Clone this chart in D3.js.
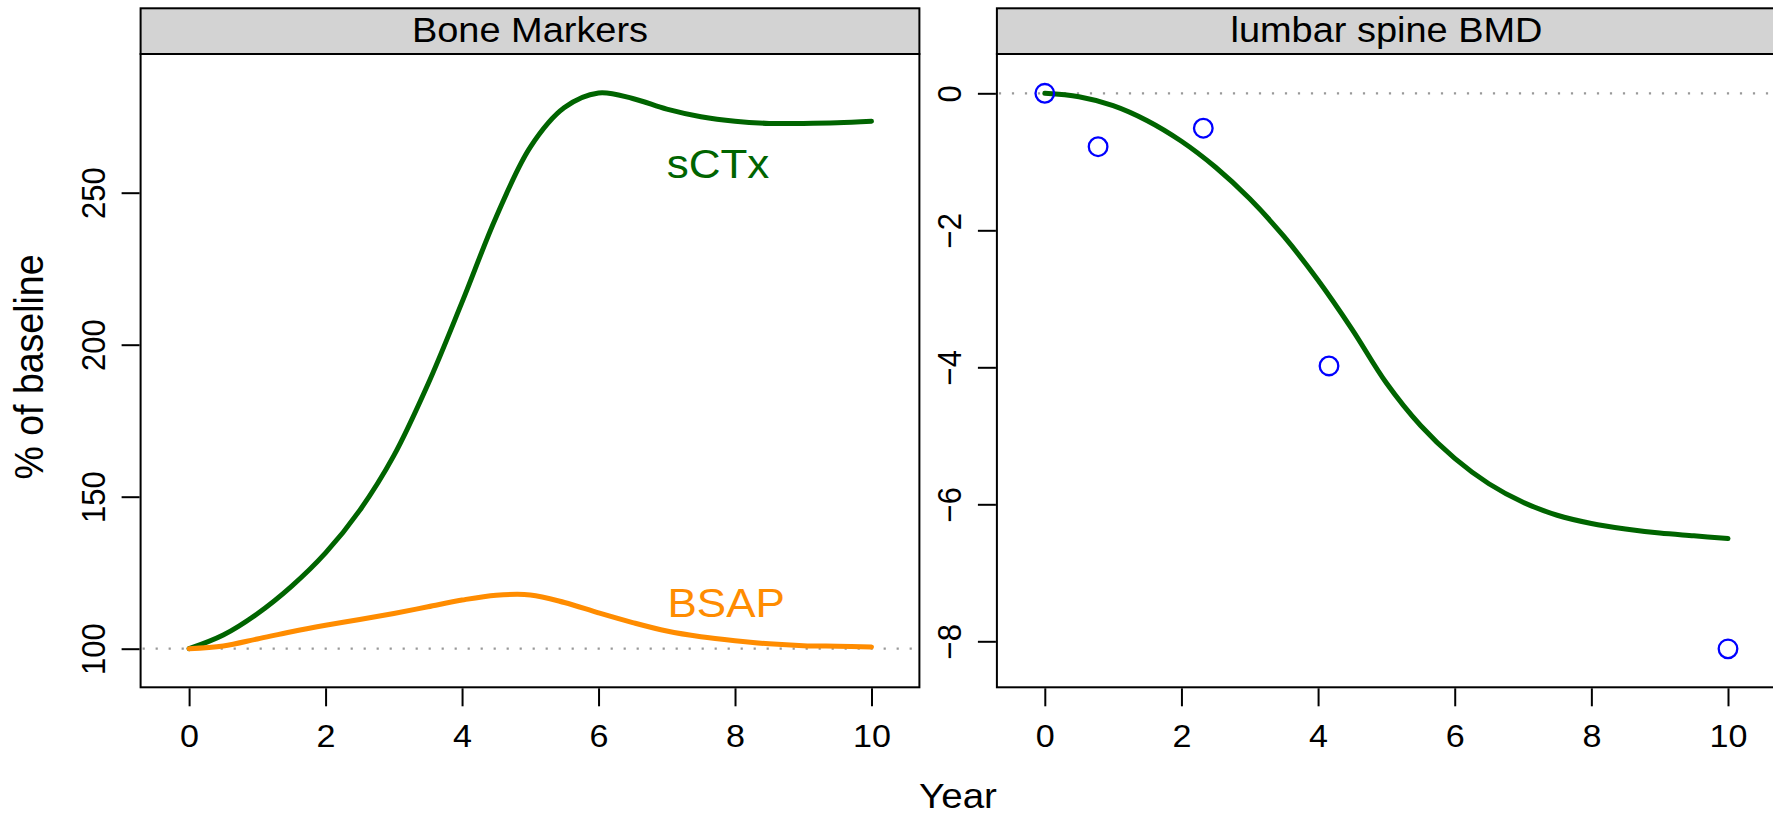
<!DOCTYPE html>
<html><head><meta charset="utf-8">
<script src="https://cdn.jsdelivr.net/npm/d3@7"></script>
<style>
html,body{margin:0;padding:0;background:#fff;}
text{font-family:"Liberation Sans",Arial,Helvetica,sans-serif;}
</style></head>
<body>
<svg id="chart" width="1773" height="816"></svg>
<script>
// ---- data ----
const years = [0,0.5,1,1.5,2,2.5,3,3.5,4,4.5,5,5.5,6,6.5,7,7.5,8,8.5,9,9.5,10];
const sctx  = [100,104.5,111.5,120.5,131.5,145.5,163.5,187,214,242,265,278,282.8,281,277.5,275,273.5,272.8,272.8,273,273.5];
const bsap  = [100,100.9,103.2,105.6,107.7,109.6,111.6,113.8,116,117.6,117.7,115.2,111.8,108.6,105.8,103.9,102.6,101.6,101,100.8,100.6];
const bmdFit = [0,-0.05,-0.18,-0.40,-0.70,-1.08,-1.54,-2.09,-2.73,-3.45,-4.23,-4.85,-5.33,-5.70,-5.97,-6.16,-6.28,-6.36,-6.42,-6.46,-6.5];
const bmdObsX = [0,0.78,2.32,4.16,10];
const bmdObsY = [0,-0.78,-0.51,-3.98,-8.11];
const xTicks = [0,2,4,6,8,10];
const leftYTicks = [100,150,200,250];
const rightYTicks = [0,-2,-4,-6,-8];
const panelTitles = ["Bone Markers","lumbar spine BMD"];
const seriesLabels = [{name:"sCTx", x:7.75, y:259.5, color:"#006400", size:40},
                      {name:"BSAP", x:7.87, y:114.9, color:"#FF8C00", size:40}];

const svg = d3.select("#chart");
const SX = 1.1; // horizontal stretch of the original rendering
const tickFont = 31;

const panels = [
  {left:140.6, right:919.4, top:54, bottom:687.3, title:panelTitles[0],
   x:d3.scaleLinear().domain([0,10]).range([189.1,871.5]),
   y:d3.scaleLinear().domain([100,250]).range([648.7,192.7]), yTicks:leftYTicks, ref:100},
  {left:996.9, right:1776, top:54, bottom:687.3, title:panelTitles[1],
   x:d3.scaleLinear().domain([0,10]).range([1044.8,1728]),
   y:d3.scaleLinear().domain([0,-8]).range([93.3,641.3]), yTicks:rightYTicks, ref:0}
];
const stripTop = 8.3;

function fmt(v){ return v<0 ? "\u2212"+Math.abs(v) : String(v); }

panels.forEach(p=>{
  const g = svg.append("g");
  // strip
  g.append("rect").attr("x",p.left).attr("y",stripTop).attr("width",p.right-p.left).attr("height",p.top-stripTop)
    .attr("fill","#d3d3d3").attr("stroke","#000").attr("stroke-width",2);
  g.append("text").attr("transform",`translate(${(p.left+p.right)/2},42.3) scale(${SX},1)`)
    .attr("text-anchor","middle").attr("font-size",34.5).attr("fill","#000").text(p.title);
  // reference dotted line
  g.append("line").attr("x1",p.left+2).attr("x2",p.right-2).attr("y1",p.y(p.ref)).attr("y2",p.y(p.ref))
    .attr("stroke","#999").attr("stroke-width",2.2).attr("stroke-dasharray","2.2,10.8");
  // x axis
  const xa = g.append("g").attr("transform",`translate(0,${p.bottom+1})`)
    .call(d3.axisBottom(p.x).tickValues(xTicks).tickSize(18).tickPadding(0).tickFormat(fmt));
  xa.select(".domain").remove();
  xa.selectAll(".tick line").attr("stroke","#000").attr("stroke-width",2);
  xa.selectAll(".tick text").attr("font-size",tickFont).attr("fill","#000")
    .attr("dy",null).attr("y",null)
    .attr("transform",`translate(0,58.5) scale(${SX},1)`);
  // y axis
  const ya = g.append("g").attr("transform",`translate(${p.left-1},0)`)
    .call(d3.axisLeft(p.y).tickValues(p.yTicks).tickSize(18).tickPadding(0).tickFormat(fmt));
  ya.select(".domain").remove();
  ya.selectAll(".tick line").attr("stroke","#000").attr("stroke-width",2);
  ya.selectAll(".tick text").attr("font-size",tickFont).attr("fill","#000")
    .attr("x",0).attr("dy",null).attr("text-anchor","middle")
    .attr("transform",`translate(-34.6,0) scale(${SX},1) rotate(-90)`);
  p.g = g;
});

// left panel lines
const L = panels[0];
const lineL = d3.line().x((d,i)=>L.x(years[i])).y(d=>L.y(d)).curve(d3.curveCatmullRom.alpha(0.5));
L.g.append("path").datum(sctx).attr("d",lineL).attr("fill","none").attr("stroke","#006400").attr("stroke-width",5).attr("stroke-linecap","round");
L.g.append("path").datum(bsap).attr("d",lineL).attr("fill","none").attr("stroke","#FF8C00").attr("stroke-width",5).attr("stroke-linecap","round");
seriesLabels.forEach(s=>{
  L.g.append("text").attr("transform",`translate(${L.x(s.x)},${L.y(s.y)}) scale(${SX},1)`)
    .attr("text-anchor","middle").attr("dominant-baseline","central").attr("font-size",s.size).attr("fill",s.color).text(s.name);
});

// right panel
const R = panels[1];
const lineR = d3.line().x((d,i)=>R.x(years[i])).y(d=>R.y(d)).curve(d3.curveCatmullRom.alpha(0.5));
R.g.append("path").datum(bmdFit).attr("d",lineR).attr("fill","none").attr("stroke","#006400").attr("stroke-width",5).attr("stroke-linecap","round");
R.g.selectAll("circle").data(bmdObsX).join("circle")
  .attr("cx",d=>R.x(d)).attr("cy",(d,i)=>R.y(bmdObsY[i])).attr("r",9.3)
  .attr("fill","none").attr("stroke","#0000ff").attr("stroke-width",2.3);

// boxes on top
panels.forEach(p=>{
  p.g.append("rect").attr("x",p.left).attr("y",p.top).attr("width",p.right-p.left).attr("height",p.bottom-p.top)
    .attr("fill","none").attr("stroke","#000").attr("stroke-width",2);
});

// axis titles
svg.append("text").attr("transform",`translate(958,807.5) scale(${SX},1)`).attr("text-anchor","middle")
  .attr("font-size",35).attr("fill","#000").text("Year");
svg.append("text").attr("transform",`translate(43,367) scale(${SX},1) rotate(-90)`).attr("text-anchor","middle")
  .attr("font-size",37.5).attr("fill","#000").text("% of baseline");
</script>
</body></html>
